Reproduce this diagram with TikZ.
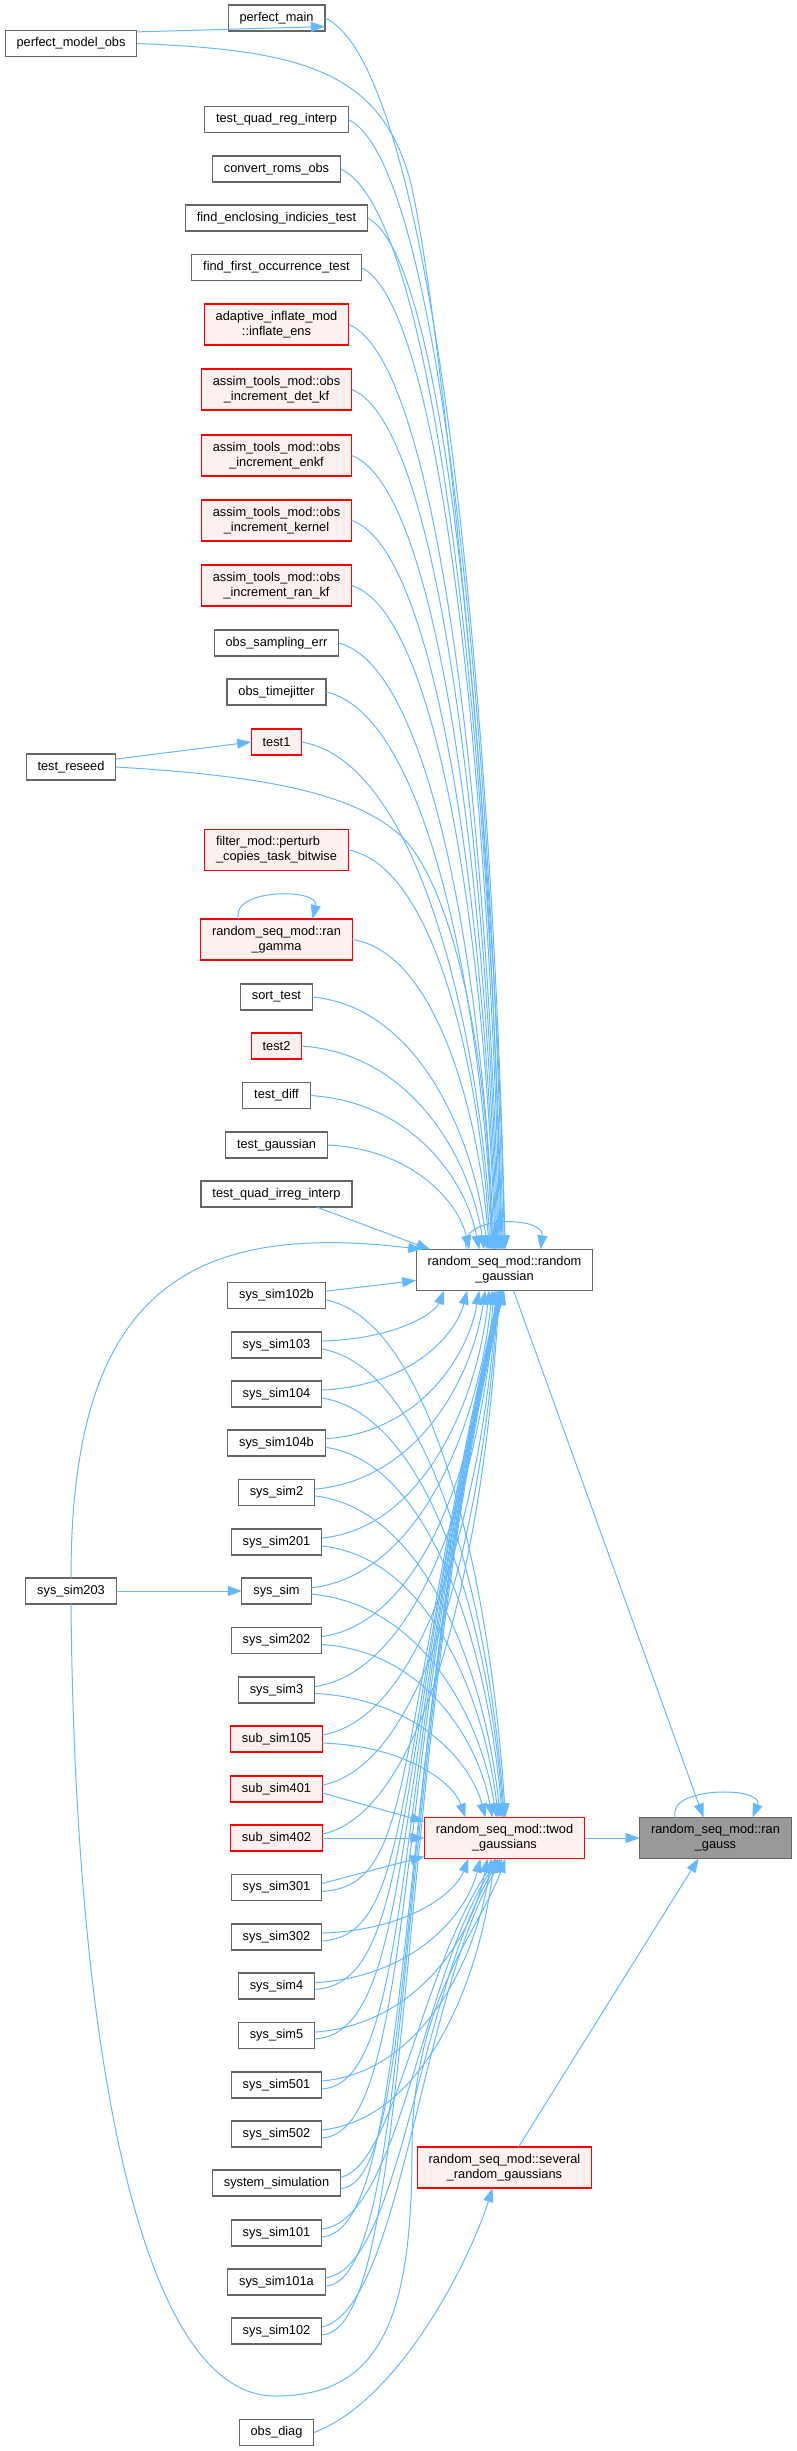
\documentclass[tikz,border=0pt]{standalone}
\usepackage{fontspec}
\setmainfont{Liberation Sans}
\usetikzlibrary{calc,arrows.meta}
\definecolor{lienbleu}{HTML}{63B8FF}
\definecolor{bordgris}{HTML}{666666}
\definecolor{fondrouge}{HTML}{FFF0F0}
\definecolor{fondgris}{HTML}{999999}

\begin{document}
\begin{tikzpicture}[
    x=0.75pt, y=-0.75pt,
    % Style pour les fonctions (rectangles gris)
    fnnode/.style={rectangle, draw=bordgris, fill=white, line width=0.8pt, inner xsep=8.6pt, inner ysep=0pt,
        outer sep=0pt, minimum height=19.5pt, align=center, font=\fontsize{9.6}{11.25}\selectfont},
    % Style pour les fonctions en rouge
    rednode/.style={fnnode, draw=red, fill=fondrouge},
    % Noeuds sur deux lignes
    twoline/.style={minimum height=30.75pt},
    % Fonction principale (grise)
    mainnode/.style={fnnode, fill=fondgris},
    % Style pour les appels
    calledge/.style={draw=lienbleu, line width=0.75pt, -{Triangle[length=10.5pt,width=7.5pt]}}
]
\useasboundingbox (0,0) rectangle (796,2451);

% Colonne de gauche
\node[fnnode] (pmo) at (71,43.5) {perfect\_model\_obs};
\node[fnnode] (trs) at (71,767) {test\_reseed};
\node[fnnode] (s203) at (71,1591) {sys\_sim203};

% Appelants
\node[fnnode] (pmain) at (276.5,18) {perfect\_main};
\node[fnnode] (tqri) at (276.5,119.5) {test\_quad\_reg\_interp};
\node[fnnode] (cro) at (276.5,169) {convert\_roms\_obs};
\node[fnnode] (feit) at (276.5,218) {find\_enclosing\_indicies\_test};
\node[fnnode] (ffot) at (276.5,267.5) {find\_first\_occurrence\_test};
\node[rednode, twoline] (aie) at (276.5,324.5) {adaptive\_inflate\_mod\\::inflate\_ens};
\node[rednode, twoline] (dkf) at (276.5,389.5) {assim\_tools\_mod::obs\\\_increment\_det\_kf};
\node[rednode, twoline] (enkf) at (276.5,455.5) {assim\_tools\_mod::obs\\\_increment\_enkf};
\node[rednode, twoline] (kern) at (276.5,520.5) {assim\_tools\_mod::obs\\\_increment\_kernel};
\node[rednode, twoline] (rkf) at (276.5,585.5) {assim\_tools\_mod::obs\\\_increment\_ran\_kf};
\node[fnnode] (ose) at (276.5,643) {obs\_sampling\_err};
\node[fnnode] (otj) at (276.5,692) {obs\_timejitter};
\node[rednode] (t1) at (276.5,742) {test1};
\node[rednode, twoline, align=left] (pctb) at (276.5,850) {filter\_mod::perturb\\\_copies\_task\_bitwise};
\node[rednode, twoline] (rgam) at (276.5,939.5) {random\_seq\_mod::ran\\\_gamma};
\node[fnnode] (sortt) at (276.5,997) {sort\_test};
\node[rednode] (t2) at (276.5,1046) {test2};
\node[fnnode] (tdiff) at (276.5,1095.5) {test\_diff};
\node[fnnode] (tgau) at (276.5,1145) {test\_gaussian};
\node[fnnode] (tqii) at (276.5,1194) {test\_quad\_irreg\_interp};
\node[fnnode] (s102b) at (276.5,1295.5) {sys\_sim102b};
\node[fnnode] (s103) at (276.5,1345) {sys\_sim103};
\node[fnnode] (s104) at (276.5,1394) {sys\_sim104};
\node[fnnode] (s104b) at (276.5,1443) {sys\_sim104b};
\node[fnnode] (s2) at (276.5,1492.5) {sys\_sim2};
\node[fnnode] (s201) at (276.5,1542) {sys\_sim201};
\node[fnnode] (ssim) at (276.5,1591) {sys\_sim};
\node[fnnode] (s202) at (276.5,1640.5) {sys\_sim202};
\node[fnnode] (s3) at (276.5,1690) {sys\_sim3};
\node[rednode] (sub105) at (276.5,1739) {sub\_sim105};
\node[rednode] (sub401) at (276.5,1789) {sub\_sim401};
\node[rednode] (sub402) at (276.5,1838) {sub\_sim402};
\node[fnnode] (s301) at (276.5,1887.5) {sys\_sim301};
\node[fnnode] (s302) at (276.5,1937) {sys\_sim302};
\node[fnnode] (s4) at (276.5,1986) {sys\_sim4};
\node[fnnode] (s5) at (276.5,2035.5) {sys\_sim5};
\node[fnnode] (s501) at (276.5,2085) {sys\_sim501};
\node[fnnode] (s502) at (276.5,2134) {sys\_sim502};
\node[fnnode] (ssimu) at (276.5,2183) {system\_simulation};
\node[fnnode] (s101) at (276.5,2233) {sys\_sim101};
\node[fnnode] (s101a) at (276.5,2282) {sys\_sim101a};
\node[fnnode] (s102) at (276.5,2331) {sys\_sim102};
\node[fnnode] (odiag) at (276.5,2432.5) {obs\_diag};

% Fonctions appelees
\node[fnnode, twoline] (rg) at (504.5,1270) {random\_seq\_mod::random\\\_gaussian};
\node[rednode, twoline] (tg) at (504.5,1838) {random\_seq\_mod::twod\\\_gaussians};
\node[rednode, twoline] (srg) at (504.5,2167.5) {random\_seq\_mod::several\\\_random\_gaussians};
\node[mainnode, twoline] (rgauss) at (715.5,1838) {random\_seq\_mod::ran\\\_gauss};

% Liens directs
\draw[calledge] (pmo.10) -- (pmain.-10);
\draw[calledge] (trs.10) -- (t1.west);
\draw[calledge] (s203.east) -- (ssim.west);

% Appels de random_gaussian par le haut
\draw[calledge] (pmain.east) .. controls (434,67) and (492,696) .. ($(rg.north west)+(89,0)$);
\draw[calledge] (pmo.east) .. controls (300,50) and (380,70) .. (410,180) .. controls (440,300) and (500,900) .. ($(rg.north west)+(88,0)$);
\draw[calledge] (tqri.east) .. controls (442,165) and (492,741) .. ($(rg.north west)+(87,0)$);
\draw[calledge] (cro.east) .. controls (438,212) and (490,764) .. ($(rg.north west)+(86,0)$);
\draw[calledge] (feit.east) .. controls (449,259) and (491,786) .. ($(rg.north west)+(85,0)$);
\draw[calledge] (ffot.east) .. controls (445,307) and (490,808) .. ($(rg.north west)+(84,0)$);
\draw[calledge] (aie.east) .. controls (440,362) and (488,834) .. ($(rg.north west)+(83,0)$);
\draw[calledge] (dkf.east) .. controls (441,424) and (487,863) .. ($(rg.north west)+(82,0)$);
\draw[calledge] (enkf.east) .. controls (440,488) and (486,892) .. ($(rg.north west)+(81,0)$);
\draw[calledge] (kern.east) .. controls (439,550) and (485,922) .. ($(rg.north west)+(80,0)$);
\draw[calledge] (rkf.east) .. controls (439,612) and (485,951) .. ($(rg.north west)+(79,0)$);
\draw[calledge] (ose.east) .. controls (432,667) and (482,977) .. ($(rg.north west)+(78,0)$);
\draw[calledge] (otj.east) .. controls (427,714) and (481,999) .. ($(rg.north west)+(77,0)$);
\draw[calledge] (t1.east) .. controls (417,762) and (478,1021) .. ($(rg.north west)+(76,0)$);
\draw[calledge] (trs.east) .. controls (250,775) and (350,790) .. (400,835) .. controls (450,880) and (490,1050) .. ($(rg.north west)+(75,0)$);
\draw[calledge] (pctb.east) .. controls (435,866) and (480,1070) .. ($(rg.north west)+(74,0)$);
\draw[calledge] (rgam.east) .. controls (435,952) and (479,1110) .. ($(rg.north west)+(73,0)$);
\draw[calledge] (sortt.east) .. controls (418,1007) and (474,1136) .. ($(rg.north west)+(71,0)$);
\draw[calledge] (t2.east) .. controls (412,1054) and (470,1158) .. ($(rg.north west)+(68,0)$);
\draw[calledge] (tdiff.east) .. controls (412,1102) and (466,1180) .. ($(rg.north west)+(63,0)$);
\draw[calledge] (tgau.east) .. controls (413,1149) and (459,1203) .. ($(rg.north west)+(53,0)$);
\draw[calledge] ($(tqii.south)+(40,0)$) -- ($(rg.north west)+(14,0)$);
\draw[calledge] (s203.north) .. controls (71,1300) and (180,1220) .. ($(rg.north west)+(6,0)$);

% Appels de random_gaussian par le bas
\draw[calledge] (s102b.5) -- ($(rg.south west)+(0,-10)$);
\draw[calledge] (s103.5) .. controls (396,1339) and (435,1313) .. ($(rg.south west)+(28,0)$);
\draw[calledge] (s104.5) .. controls (410,1386) and (456,1335) .. ($(rg.south west)+(51,0)$);
\draw[calledge] (s104b.5) .. controls (418,1433) and (468,1357) .. ($(rg.south west)+(63,0)$);
\draw[calledge] (s2.5) .. controls (418,1480) and (472,1379) .. ($(rg.south west)+(69,0)$);
\draw[calledge] (s201.5) .. controls (423,1528) and (477,1402) .. ($(rg.south west)+(73,0)$);
\draw[calledge] (ssim.5) .. controls (421,1575) and (479,1424) .. ($(rg.south west)+(76,0)$);
\draw[calledge] (s202.5) .. controls (426,1623) and (481,1446) .. ($(rg.south west)+(78,0)$);
\draw[calledge] (s3.5) .. controls (424,1670) and (482,1468) .. ($(rg.south west)+(80,0)$);
\draw[calledge] (sub105.5) .. controls (428,1717) and (484,1490) .. ($(rg.south west)+(81,0)$);
\draw[calledge] (sub401.5) .. controls (428,1765) and (485,1513) .. ($(rg.south west)+(82,0)$);
\draw[calledge] (sub402.5) .. controls (429,1812) and (486,1535) .. ($(rg.south west)+(83,0)$);
\draw[calledge] (s301.-5) .. controls (415,1886) and (392,1765) .. ($(rg.south west)+(83,0)$);
\draw[calledge] (s302.-5) .. controls (415,1936) and (392,1765) .. ($(rg.south west)+(84,0)$);
\draw[calledge] (s4.-5) .. controls (415,1985) and (392,1765) .. ($(rg.south west)+(84,0)$);
\draw[calledge] (s5.-5) .. controls (415,2034) and (392,1765) .. ($(rg.south west)+(85,0)$);
\draw[calledge] (s501.-5) .. controls (415,2084) and (392,1765) .. ($(rg.south west)+(85,0)$);
\draw[calledge] (s502.-5) .. controls (415,2133) and (392,1765) .. ($(rg.south west)+(86,0)$);
\draw[calledge] (ssimu.-5) .. controls (420,2182) and (392,1765) .. ($(rg.south west)+(86,0)$);
\draw[calledge] (s101.-5) .. controls (415,2232) and (392,1765) .. ($(rg.south west)+(87,0)$);
\draw[calledge] (s101a.-5) .. controls (415,2281) and (392,1765) .. ($(rg.south west)+(87,0)$);
\draw[calledge] (s102.-5) .. controls (415,2330) and (392,1765) .. ($(rg.south west)+(88,0)$);

% Boucle de random_gaussian
\draw[calledge] ($(rg.north)+(-38,0)$) .. controls (455,1215) and (545,1215) .. ($(rg.north)+(36,0)$);

% Appels de twod_gaussians par le haut
\draw[calledge] (s102b.-5) .. controls (433,1320) and (491,1585) .. ($(tg.north west)+(81,0)$);
\draw[calledge] (s103.-5) .. controls (431,1368) and (489,1607) .. ($(tg.north west)+(80,0)$);
\draw[calledge] (s104.-5) .. controls (431,1415) and (489,1629) .. ($(tg.north west)+(79,0)$);
\draw[calledge] (s104b.-5) .. controls (432,1462) and (488,1651) .. ($(tg.north west)+(78,0)$);
\draw[calledge] (s2.-5) .. controls (426,1509) and (485,1673) .. ($(tg.north west)+(76,0)$);
\draw[calledge] (s201.-5) .. controls (428,1557) and (484,1696) .. ($(tg.north west)+(74,0)$);
\draw[calledge] (ssim.-5) .. controls (422,1604) and (481,1718) .. ($(tg.north west)+(72,0)$);
\draw[calledge] (s202.-5) .. controls (424,1651) and (478,1740) .. ($(tg.north west)+(68,0)$);
\draw[calledge] (s3.-5) .. controls (417,1699) and (471,1762) .. ($(tg.north west)+(61,0)$);
\draw[calledge] (sub105.-5) .. controls (408,1746) and (454,1784) .. ($(tg.north west)+(41,0)$);
\draw[calledge] (sub401.-5) -- ($(tg.north west)+(0,4)$);
\draw[calledge] (sub402.east) -- (tg.west);
\draw[calledge] (s301.5) -- ($(tg.south west)+(0,-2)$);

% Appels de twod_gaussians par le bas
\draw[calledge] (s302.5) .. controls (410,1930) and (456,1892) .. ($(tg.south west)+(44,0)$);
\draw[calledge] (s4.5) .. controls (414,1977) and (467,1914) .. ($(tg.south west)+(56,0)$);
\draw[calledge] (s5.5) .. controls (418,2024) and (473,1936) .. ($(tg.south west)+(63,0)$);
\draw[calledge] (s501.5) .. controls (423,2072) and (477,1958) .. ($(tg.south west)+(67,0)$);
\draw[calledge] (s502.5) .. controls (425,2119) and (480,1980) .. ($(tg.south west)+(70,0)$);
\draw[calledge] (ssimu.5) .. controls (395,2165) and (420,1970) .. ($(tg.south west)+(72,0)$);
\draw[calledge] (s101.5) .. controls (400,2220) and (420,1980) .. ($(tg.south west)+(74,0)$);
\draw[calledge] (s101a.5) .. controls (400,2270) and (420,1990) .. ($(tg.south west)+(76,0)$);
\draw[calledge] (s102.5) .. controls (400,2310) and (420,2000) .. ($(tg.south west)+(78,0)$);
\draw[calledge] (s203.south) .. controls (75,2050) and (140,2396) .. (275,2396) .. controls (380,2396) and (412,2320) .. (412,2150) .. controls (412,2000) and (480,1930) .. ($(tg.south west)+(81,0)$);

% Appels de ran_gauss
\draw[calledge] (odiag.east) .. controls (400,2400) and (470,2260) .. ($(srg.south)+(-12,0)$);
\draw[calledge] (tg.east) -- (rgauss.west);
\draw[calledge] ($(rg.south)+(9,0)$) -- ($(rgauss.north)+(-12,0)$);
\draw[calledge] ($(srg.north)+(14,0)$) -- ($(rgauss.south)+(-17,0)$);

% Boucles
\draw[calledge] ($(rgauss.north)+(-40,0)$) .. controls (665,1786) and (765,1786) .. ($(rgauss.north)+(37,0)$);
\draw[calledge] ($(rgam.north)+(-38,0)$) .. controls (230,888) and (320,888) .. ($(rgam.north)+(36,0)$);

\end{tikzpicture}
\end{document}
